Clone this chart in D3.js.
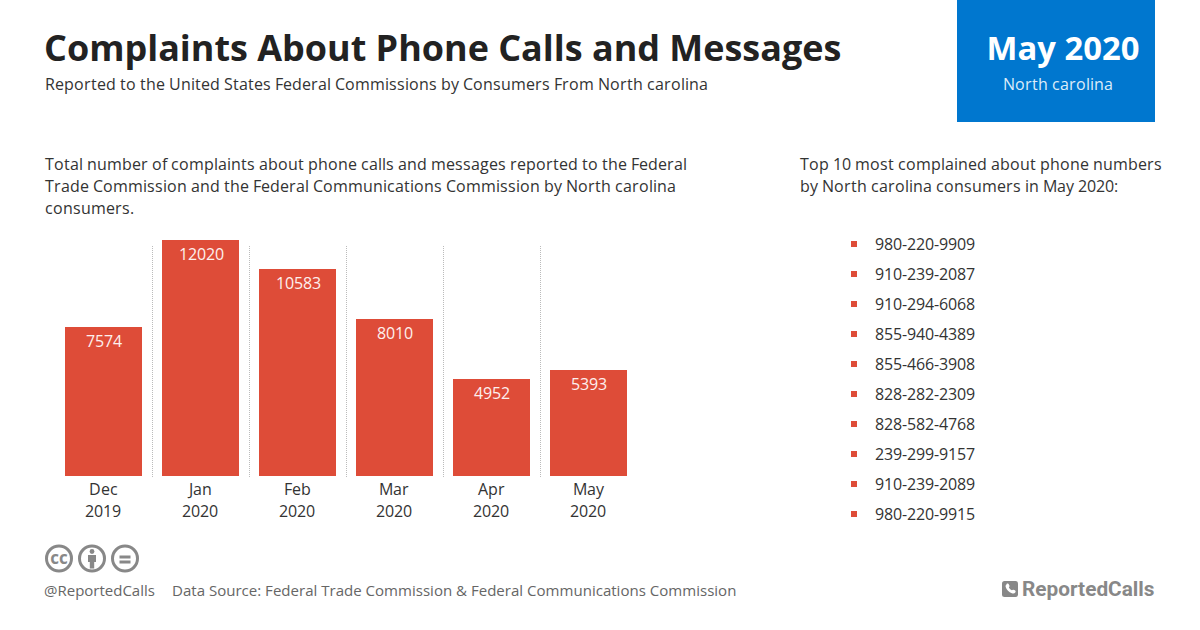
<!DOCTYPE html>
<html>
<head>
<meta charset="utf-8">
<script src="https://cdn.jsdelivr.net/npm/d3@7/dist/d3.min.js"></script>
<style>
html,body{margin:0;padding:0;background:#fff}
svg{display:block}
text{font-family:"Open Sans",sans-serif}
</style>
</head>
<body>
<svg id="chart" width="1200" height="630"></svg>
<script>
const months = ["Dec","Jan","Feb","Mar","Apr","May"];
const years = ["2019","2020","2020","2020","2020","2020"];
const complaints = [7574,12020,10583,8010,4952,5393];
const phoneNumbers = ["980-220-9909","910-239-2087","910-294-6068","855-940-4389","855-466-3908","828-282-2309","828-582-4768","239-299-9157","910-239-2089","980-220-9915"];
const introLines = ["Total number of complaints about phone calls and messages reported to the Federal","Trade Commission and the Federal Communications Commission by North carolina","consumers."];
const topLines = ["Top 10 most complained about phone numbers","by North carolina consumers in May 2020:"];

const RED = "#de4c38", INK = "#333", BLUE = "#0077cf", GREY = "#888";
const svg = d3.select("#chart");
const ctx = document.createElement("canvas").getContext("2d");

// Sets one line of text with whole-pixel glyph advances.
function put(x,y,value,size,fill,opts={}){
  const s = String(value), weight = opts.weight||400, family = opts.family||"Open Sans";
  ctx.font = `${weight} ${size}px "${family}"`;
  const adv = Array.from(s,c=>Math.round(ctx.measureText(c).width));
  const total = d3.sum(adv);
  const start = opts.anchor==="middle" ? Math.round(x-total/2) : x;
  const xs = []; let pos = start;
  adv.forEach(a=>{xs.push(pos); pos+=a;});
  return svg.append("text").attr("x",xs.join(" ")).attr("y",y)
    .attr("font-size",size).attr("fill",fill).attr("font-weight",weight)
    .style("font-family",`"${family}",sans-serif`).text(s);
}

// Sets one line of text with the font's natural spacing.
function plain(x,y,s,size,fill,weight=400,anchor="start"){
  return svg.append("text").attr("x",x).attr("y",y).attr("font-size",size)
    .attr("fill",fill).attr("font-weight",weight).attr("text-anchor",anchor).text(s);
}

// Heading
plain(44,61,"Complaints About Phone Calls and Messages",35.95,"#222",700);
put(45,90,"Reported to the United States Federal Commissions by Consumers From North carolina",16,INK);

// Date badge
svg.append("rect").attr("x",957).attr("y",0).attr("width",198).attr("height",122).attr("fill",BLUE);
plain(1063,60,"May 2020",32.8,"#fff",700,"middle");
put(1058,90,"North carolina",16,"#dcecf9",{anchor:"middle"});

// Intro paragraphs
introLines.forEach((l,i)=>put(45,170+22*i,l,16,INK));
topLines.forEach((l,i)=>put(800,170+22*i,l,16,INK));

// Bar chart
const keys = months.map((m,i)=>i);
const x = d3.scaleBand().domain(keys).range([65,627]).paddingInner(20/97).paddingOuter(0);
const y = d3.scaleLinear().domain([0,12020]).range([475.94,240.35]);
const baseline = Math.round(y(0));

const gap = x.step()-x.bandwidth();
svg.append("g").selectAll("line").data(keys.slice(1)).join("line")
  .attr("x1",i=>x(i)-gap/2+0.5)
  .attr("x2",i=>x(i)-gap/2+0.5)
  .attr("y1",246).attr("y2",477)
  .attr("stroke","#bbb").attr("stroke-width",1).attr("stroke-dasharray","1 1");

svg.append("g").selectAll("rect").data(keys).join("rect")
  .attr("x",i=>x(i)).attr("width",x.bandwidth())
  .attr("y",i=>Math.round(y(complaints[i]))).attr("height",i=>baseline-Math.round(y(complaints[i])))
  .attr("fill",RED);

keys.forEach(i=>{
  const cx = x(i)+x.bandwidth()/2;
  put(cx+0.5,Math.round(y(complaints[i]))+20,complaints[i],16,"#fdf0ee",{anchor:"middle"});
  put(cx-0.5,495,months[i],16,INK,{anchor:"middle"});
  put(cx-0.5,517,years[i],16,INK,{anchor:"middle"});
});

// Phone number list
const rowY = d3.scalePoint().domain(d3.range(phoneNumbers.length)).range([244,514]);
phoneNumbers.forEach((d,i)=>{
  svg.append("rect").attr("x",851).attr("y",rowY(i)-3).attr("width",6).attr("height",6).attr("fill",RED);
  put(875,rowY(i)+6,d,16,INK);
});

// Licence badges
const badge = svg.append("g").attr("fill","none").attr("stroke",GREY).attr("stroke-width",3);
[59,92,125].forEach(cx=>badge.append("circle").attr("cx",cx).attr("cy",558.5).attr("r",12.5));
plain(59,564,"cc",17,GREY,700,"middle");
svg.append("circle").attr("cx",92).attr("cy",551.5).attr("r",2.4).attr("fill",GREY);
svg.append("path").attr("d","M88 555h8v7h-1.8v6.5h-4.4v-6.5H88z").attr("fill",GREY);
svg.append("g").attr("fill",GREY).selectAll("rect").data([555.5,560.5]).join("rect")
  .attr("x",119.5).attr("y",d=>d).attr("width",11).attr("height",3);

// Footer
plain(44,596,"@ReportedCalls",15,"#666");
plain(172,596,"Data Source: Federal Trade Commission & Federal Communications Commission",15.05,"#666");

// Brand mark
svg.append("rect").attr("x",1002).attr("y",581).attr("width",16).attr("height",16).attr("rx",2.5).attr("fill",GREY);
svg.append("path").attr("d","M1006.5 584c1-.6 2-.5 2.4.4l.6 1.4c.2.6 0 1-.6 1.5.5 1.3 1.6 2.4 3 3 .5-.6 1-.8 1.5-.6l1.5.6c.8.4 1 1.4.4 2.3-.8 1-2 1.2-3.4.7-3-1-5.4-3.4-6.2-6.3-.3-1.2 0-2.1.8-2.5z").attr("fill","#fff");
svg.append("text").attr("x",1022).attr("y",596).attr("font-size",20.8).attr("font-weight",700)
  .attr("fill",GREY).style("font-family","Roboto,sans-serif").text("ReportedCalls");
</script>
</body>
</html>
